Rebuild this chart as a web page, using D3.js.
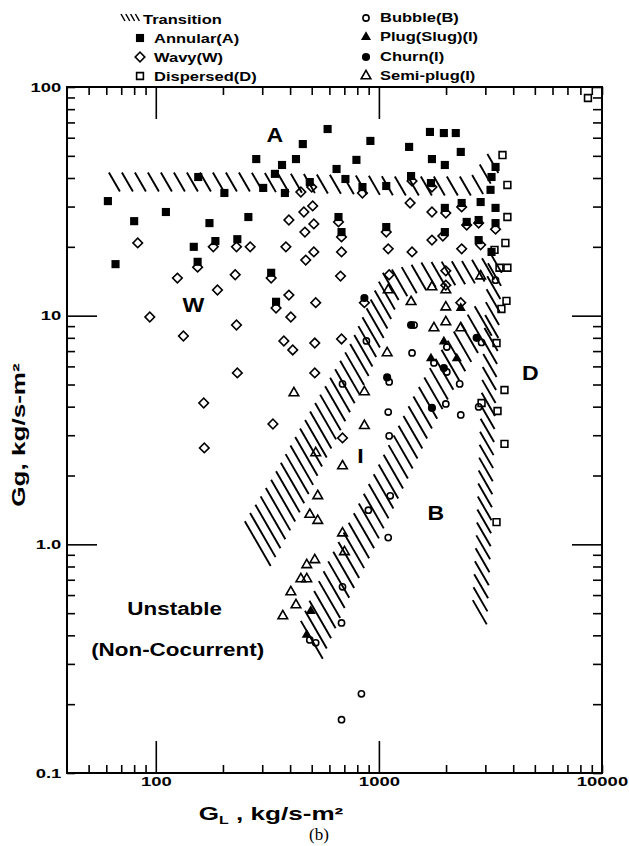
<!DOCTYPE html>
<html>
<head>
<meta charset="utf-8">
<script src="https://cdn.jsdelivr.net/npm/d3@7/dist/d3.min.js"></script>
<style>
  body { margin: 0; background: #fff; }
  svg { display: block; }
</style>
</head>
<body>
<div id="chart"></div>
<script>
// Flow regime map (b): Gg against GL, log-log

// [GL, Gg] pairs, kg/s-m2
const annular = [
  [61, 31.7], [66, 16.8], [80, 25.9], [111, 28.4], [148, 20], [155, 40.4], [154, 17.2],
  [174, 25.4], [185, 21.2], [203, 34.4], [232, 21.6], [260, 27], [282, 48.4], [303, 36.2],
  [329, 15.4], [342, 41.7], [346, 11.5], [368, 45.6], [379, 34.4], [425, 48.4], [456, 56.3],
  [490, 38.4], [589, 65.5], [916, 58.1], [793, 48], [646, 43.8], [708, 39.6], [844, 36.5],
  [1079, 36.9], [1366, 54.7], [1694, 63.6], [1955, 62.9], [2211, 62.9], [1729, 48.4],
  [1975, 45.6], [2328, 52], [1394, 40.8], [1711, 38], [2350, 31.1], [2858, 31.4],
  [3333, 44.7], [3198, 40.4], [3165, 35.5], [3333, 29.6], [3333, 25.4], [2800, 26.2],
  [2475, 25.7], [2800, 21.4], [1975, 29.6], [1975, 23.2], [3198, 19], [659, 27],
  [680, 23.2], [1079, 24.4]
];
const wavy = [
  [83, 20.8], [125, 14.6], [154, 16.3], [181, 20], [189, 12.95], [230, 20], [227, 15.1],
  [265, 20], [94, 9.87], [230, 9.1], [329, 14.6], [383, 20], [395, 26.2], [395, 12.3],
  [346, 10.8], [403, 9.87], [447, 34.75], [461, 28.4], [505, 30.2], [466, 23.2], [511, 25.2],
  [470, 17.5], [511, 19], [521, 11.4], [500, 36.5], [659, 25.7], [680, 22.1], [680, 19],
  [673, 14.9], [844, 34.4], [1079, 23.2], [1101, 19.6], [1408, 19], [1112, 15.1],
  [1380, 31.1], [1408, 38.8], [1729, 36.5], [1729, 28.4], [1995, 28.1], [1729, 21.4],
  [1935, 22.3], [2350, 19.6], [2350, 29.9], [2475, 24.9], [2800, 25.4], [2858, 20.4],
  [3333, 23.9], [1995, 15.7], [1995, 13.6], [2328, 11.4], [861, 11.4], [133, 8.15],
  [232, 5.62], [164, 4.15], [165, 2.64], [335, 3.36], [375, 7.75], [411, 7.08], [516, 7.59],
  [516, 5.62], [680, 7.91], [687, 2.92]
];
const dispersed = [
  [3581, 50.4], [3767, 37.3], [3767, 27], [3690, 20.8], [3298, 19.4], [3472, 16.2],
  [3767, 16.2], [3731, 11.6], [3542, 10.7], [8650, 89.5], [3367, 7.59], [3655, 4.73],
  [3402, 3.83], [3655, 2.75], [3367, 1.25], [2885, 4.15]
];
const bubble = [
  [879, 7.75], [687, 5.03], [1408, 6.87], [1112, 5.13], [1101, 3.79], [1112, 2.98],
  [1995, 4.11], [2302, 5.03], [2328, 3.68], [1765, 6.21], [2016, 5.67], [2016, 7.29],
  [2885, 7.64], [2800, 3.99], [1124, 1.63], [897, 1.41], [1101, 1.07], [1438, 9.1],
  [687, 0.652], [680, 0.453], [490, 0.382], [521, 0.371], [835, 0.222], [680, 0.171],
  [3333, 14.3]
];
const plug = [[2328, 10.8], [1955, 7.7], [1711, 6.5], [2234, 6.5], [495, 0.511], [475, 0.402]];
const churn = [[861, 11.95], [1394, 9.1], [2742, 8], [1955, 5.9], [1089, 5.37], [1729, 3.95]];
const semiPlug = [
  [2858, 14.9], [1101, 12.95], [1729, 13.35], [1995, 12.95], [1394, 11.5], [1995, 10.9],
  [1995, 9.38], [1765, 8.83], [2328, 8.83], [1089, 6.87], [861, 4.64], [861, 3.3],
  [687, 2.2], [532, 1.63], [521, 2.51], [490, 1.35], [532, 1.27], [687, 1.12], [701, 0.927],
  [475, 0.813], [516, 0.855], [416, 4.59], [447, 0.706], [475, 0.706], [403, 0.619],
  [425, 0.543], [371, 0.486]
];

// transition bands: centre lines of the hatched strips, [GL, Gg]
const bandAW = [[61, 38.4], [265, 38.4], [1233, 36.9], [2742, 36.9], [3333, 48]];
const bandWI = [[279, 0.964], [379, 1.6], [490, 2.59], [633, 4.07], [818, 6.4], [984, 9.77],
  [1136, 13.6], [1677, 15.1], [2526, 15.5], [3333, 16.2]];
const bandIB = [[490, 0.363], [532, 0.444], [666, 0.713], [861, 1.156], [1057, 1.73],
  [1298, 2.59], [1593, 3.87], [1955, 5.5], [2400, 7.45], [3009, 9.77]];
const bandD = [[3333, 18.4], [3165, 7.08], [3038, 2.59], [2947, 1.045], [2828, 0.491]];

// axis ticks
const xTickValues = [50, 60, 70, 80, 90, 100, 200, 300, 400, 500, 600, 700, 800, 900,
  1000, 2000, 3000, 4000, 5000, 6000, 7000, 8000, 9000, 10000];
const xLabelValues = [100, 1000, 10000];
const xMajor = [100, 1000];
const yTickValues = [0.1, 0.2, 0.3, 0.4, 0.5, 0.6, 0.7, 0.8, 0.9, 1, 2, 3, 4, 5, 6, 7, 8, 9,
  10, 20, 30, 40, 50, 60, 70, 80, 90, 100];
const yLabelValues = [0.1, 1, 10, 100];
const yLabelText = ['0.1', '1.0', '10', '100'];
const yMajor = [1, 10];

// region annotations [text, GL, Gg]
const regionLabels = [['A', 342, 57.5], ['W', 147.6, 10.4], ['I', 826, 2.27],
  ['B', 1801, 1.28], ['D', 4770, 5.24]];
const noteLabels = [['Unstable', 121.5, 0.491], ['(Non-Cocurrent)', 125.3, 0.325]];

// legend entries
const legendLeft = ['Transition', 'Annular(A)', 'Wavy(W)', 'Dispersed(D)'];
const legendRight = ['Bubble(B)', 'Plug(Slug)(I)', 'Churn(I)', 'Semi-plug(I)'];

// ---------------------------------------------------------------

const W = 629, H = 846;
const plot = { left: 67, right: 602, top: 87, bottom: 773 };
const FONT = "'Liberation Sans', Arial, sans-serif";
const STRETCH = 1.42;

const svg = d3.select('#chart').append('svg')
  .attr('width', W)
  .attr('height', H)
  .style('background', '#fff');

const x = d3.scaleLog().domain([40, 10000]).range([plot.left, plot.right]);
const y = d3.scaleLog().domain([0.1, 100]).range([plot.bottom, plot.top]);

// marker styles
const sym = {
  square: d3.symbol().type(d3.symbolSquare),
  circle: d3.symbol().type(d3.symbolCircle),
  triangle: d3.symbol().type(d3.symbolTriangle)
};
const styles = {
  annular:   { shape: 'square',   size: 66, fill: '#000', stroke: 'none', rot: 0 },
  wavy:      { shape: 'square',   size: 46, fill: 'none', stroke: '#000', rot: 45 },
  dispersed: { shape: 'square',   size: 46, fill: 'none', stroke: '#000', rot: 0 },
  bubble:    { shape: 'circle',   size: 30, fill: 'none', stroke: '#000', rot: 0 },
  plug:      { shape: 'triangle', size: 44, fill: '#000', stroke: 'none', rot: 0 },
  churn:     { shape: 'circle',   size: 52, fill: '#000', stroke: 'none', rot: 0 },
  semiPlug:  { shape: 'triangle', size: 40, fill: 'none', stroke: '#000', rot: 0 }
};

function marker(sel, st) {
  sel.attr('d', sym[st.shape].size(st.size)())
    .attr('fill', st.fill)
    .attr('stroke', st.stroke)
    .attr('stroke-width', 1.6);
}

// hatched transition strips
const HX = Math.cos(Math.PI / 3), HY = Math.sin(Math.PI / 3);
function hatchBand(g, band, st) {
  const pts = band.map(d => [x(d[0]), y(d[1])]);
  const segs = [];
  let total = 0;
  for (let i = 1; i < pts.length; i++) {
    const dx = pts[i][0] - pts[i - 1][0], dy = pts[i][1] - pts[i - 1][1];
    const len = Math.hypot(dx, dy);
    segs.push({ a: pts[i - 1], dx, dy, len, start: total });
    total += len;
  }
  const strokes = [];
  for (let t = st.spacing / 2; t < total; t += st.spacing) {
    const s = segs.find(s => t <= s.start + s.len) || segs[segs.length - 1];
    const f = (t - s.start) / s.len;
    const cx = s.a[0] + s.dx * f, cy = s.a[1] + s.dy * f;
    const L = st.len0 + (st.len1 - st.len0) * t / total;
    strokes.push([cx - HX * L / 2, cy - HY * L / 2, cx + HX * L / 2, cy + HY * L / 2]);
  }
  g.selectAll(null).data(strokes).enter().append('line')
    .attr('x1', d => d[0]).attr('y1', d => d[1])
    .attr('x2', d => d[2]).attr('y2', d => d[3])
    .attr('stroke', '#000')
    .attr('stroke-width', 1.9);
}

const gBands = svg.append('g');
hatchBand(gBands, bandAW, { spacing: 13, len0: 22, len1: 22 });
hatchBand(gBands, bandWI, { spacing: 10, len0: 52, len1: 24 });
hatchBand(gBands, bandIB, { spacing: 11, len0: 44, len1: 34 });
hatchBand(gBands, bandD, { spacing: 13, len0: 26, len1: 28 });

// data points
const series = [
  ['wavy', wavy], ['dispersed', dispersed], ['bubble', bubble], ['semiPlug', semiPlug],
  ['annular', annular], ['churn', churn], ['plug', plug]
];
series.forEach(([key, data]) => {
  const st = styles[key];
  svg.append('g').selectAll('path')
    .data(data)
    .enter().append('path')
    .attr('transform', d => `translate(${x(d[0])},${y(d[1])}) rotate(${st.rot})`)
    .call(marker, st);
});

// frame
svg.append('rect')
  .attr('x', plot.left).attr('y', plot.top)
  .attr('width', plot.right - plot.left).attr('height', plot.bottom - plot.top)
  .attr('fill', 'none').attr('stroke', '#000').attr('stroke-width', 2);

function styleTicks(g) {
  g.select('.domain').remove();
  g.selectAll('.tick line').attr('stroke', '#000').attr('stroke-width', 1.6);
  g.selectAll('.tick text')
    .attr('fill', '#000')
    .style('font-family', FONT)
    .style('font-weight', 'bold')
    .style('font-size', '13px')
    .attr('transform', `scale(${STRETCH},1)`);
}

const xFmt = d => xLabelValues.includes(d) ? String(d) : '';
const yFmt = d => {
  const i = yLabelValues.indexOf(d);
  return i >= 0 ? yLabelText[i] : '';
};

svg.append('g')
  .attr('transform', `translate(0,${plot.bottom})`)
  .call(d3.axisBottom(x).tickValues(xTickValues).tickSize(0).tickPadding(4).tickFormat(xFmt))
  .call(styleTicks)
  .selectAll('.tick line').attr('y2', d => xMajor.includes(d) ? -32 : -8);

svg.append('g')
  .attr('transform', `translate(0,${plot.top})`)
  .call(d3.axisTop(x).tickValues(xTickValues).tickSize(0).tickFormat(''))
  .call(styleTicks)
  .selectAll('.tick line').attr('y2', d => xMajor.includes(d) ? 32 : 8);

svg.append('g')
  .attr('transform', `translate(${plot.left},0)`)
  .call(d3.axisLeft(y).tickValues(yTickValues).tickSize(0).tickPadding(4).tickFormat(yFmt))
  .call(styleTicks)
  .selectAll('.tick line').attr('x2', d => yMajor.includes(d) ? 30 : 8);

svg.append('g')
  .attr('transform', `translate(${plot.right},0)`)
  .call(d3.axisRight(y).tickValues(yTickValues).tickSize(0).tickFormat(''))
  .call(styleTicks)
  .selectAll('.tick line').attr('x2', d => yMajor.includes(d) ? -30 : -9);

// axis titles
svg.append('text')
  .attr('transform', `translate(25,435) rotate(-90) scale(1.45,1)`)
  .attr('text-anchor', 'middle')
  .style('font-family', FONT).style('font-weight', 'bold').style('font-size', '18px')
  .text('Gg, kg/s-m²');

const xTitle = svg.append('text')
  .attr('transform', `translate(271,820) scale(1.45,1)`)
  .attr('text-anchor', 'middle')
  .style('font-family', FONT).style('font-weight', 'bold').style('font-size', '18px');
xTitle.append('tspan').text('G');
xTitle.append('tspan').attr('dy', 4).style('font-size', '11px').text('L');
xTitle.append('tspan').attr('dy', -4).text(' , kg/s-m²');

svg.append('text')
  .attr('x', 319).attr('y', 840)
  .attr('text-anchor', 'middle')
  .style('font-family', "'Liberation Serif', 'Times New Roman', serif")
  .style('font-size', '17px')
  .text('(b)');

// region letters and notes
svg.append('g').selectAll('text')
  .data(regionLabels)
  .enter().append('text')
  .attr('transform', d => `translate(${x(d[1])},${y(d[2])}) scale(1.1,1)`)
  .attr('text-anchor', 'middle')
  .style('font-family', FONT).style('font-weight', 'bold').style('font-size', '21px')
  .text(d => d[0]);

svg.append('g').selectAll('text')
  .data(noteLabels)
  .enter().append('text')
  .attr('transform', d => `translate(${x(d[1])},${y(d[2])}) scale(1.18,1)`)
  .attr('text-anchor', 'middle')
  .style('font-family', FONT).style('font-weight', 'bold').style('font-size', '19px')
  .text(d => d[0]);

// legend
const legendKeys = {
  'Annular(A)': 'annular', 'Wavy(W)': 'wavy', 'Dispersed(D)': 'dispersed',
  'Bubble(B)': 'bubble', 'Plug(Slug)(I)': 'plug', 'Churn(I)': 'churn', 'Semi-plug(I)': 'semiPlug'
};
const leftRows = [19, 38, 57, 76];
const rightRows = [17, 36, 56, 75];

function legendText(g, label, tx, ty) {
  g.append('text')
    .attr('transform', `translate(${tx},${ty}) scale(1.27,1)`)
    .attr('dy', '0.36em')
    .style('font-family', FONT).style('font-weight', 'bold').style('font-size', '13px')
    .text(label);
}

const gLeg = svg.append('g');
legendLeft.forEach((label, i) => {
  const ly = leftRows[i];
  if (label === 'Transition') {
    [0, 1, 2, 3].forEach(k => {
      gLeg.append('line')
        .attr('x1', 121 + k * 4.8).attr('y1', ly - 5)
        .attr('x2', 125 + k * 4.8).attr('y2', ly + 2)
        .attr('stroke', '#000').attr('stroke-width', 1.5);
    });
    legendText(gLeg, label, 143, ly);
  } else {
    const st = styles[legendKeys[label]];
    gLeg.append('path')
      .attr('transform', `translate(140,${ly}) rotate(${st.rot})`)
      .call(marker, st);
    legendText(gLeg, label, 154, ly);
  }
});
legendRight.forEach((label, i) => {
  const ly = rightRows[i];
  const st = styles[legendKeys[label]];
  gLeg.append('path')
    .attr('transform', `translate(366,${ly + 1}) rotate(${st.rot})`)
    .call(marker, st);
  legendText(gLeg, label, 380, ly);
});
</script>
</body>
</html>
